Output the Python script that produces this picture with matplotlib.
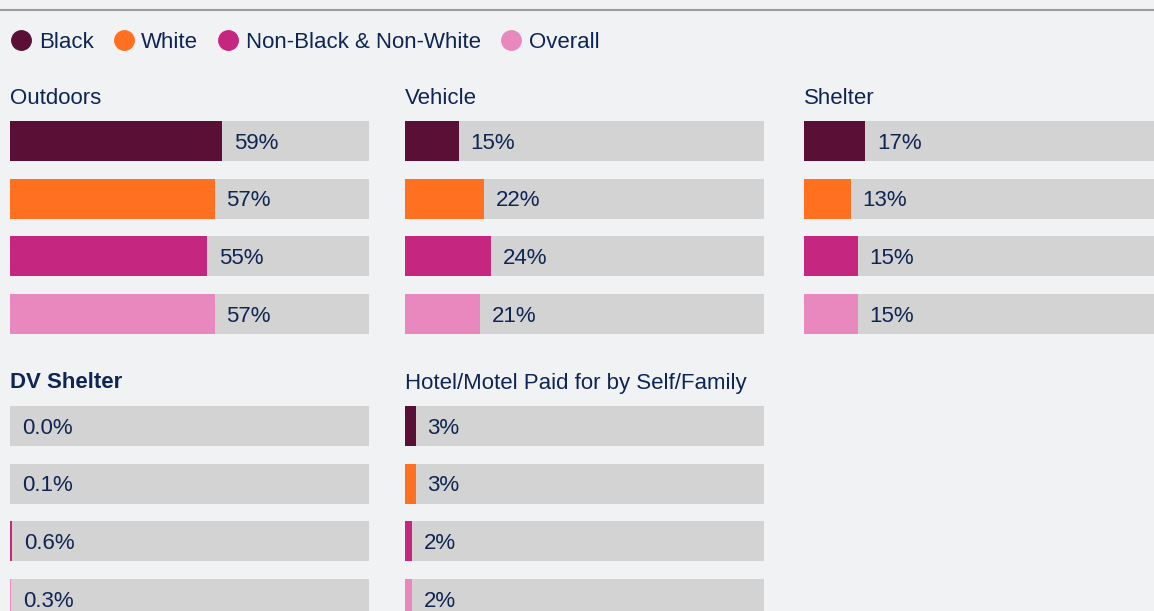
import matplotlib.pyplot as plt
from matplotlib.lines import Line2D

# data
groups = ['Black', 'White', 'Non-Black & Non-White', 'Overall']
colors = ['#5a0f36', '#ff7020', '#c5267f', '#e987bf']

panel_titles = ['Outdoors', 'Vehicle', 'Shelter', 'DV Shelter', 'Hotel/Motel Paid for by Self/Family']
outdoors = [59, 57, 55, 57]
vehicle = [15, 22, 24, 21]
shelter = [17, 13, 15, 15]
dv_shelter = [0.0, 0.1, 0.6, 0.3]
hotel = [3, 3, 2, 2]
panel_values = [outdoors, vehicle, shelter, dv_shelter, hotel]
panel_labels = [
    ['59%', '57%', '55%', '57%'],
    ['15%', '22%', '24%', '21%'],
    ['17%', '13%', '15%', '15%'],
    ['0.0%', '0.1%', '0.6%', '0.3%'],
    ['3%', '3%', '2%', '2%'],
]

W, H = 1154, 611
BG = '#f1f2f4'
TRACK = '#d2d3d2'
TXT = '#0f2553'
FS = 16

plt.rcParams['font.family'] = ['Liberation Sans', 'DejaVu Sans']

fig = plt.figure(figsize=(W / 100, H / 100), dpi=100, facecolor=BG)


def px(x, y):
    # pixel (top-left origin) -> figure fraction
    return x / W, 1 - y / H


# top rule
fig.add_artist(Line2D([0, 1], [1 - 10 / H] * 2, color='#9a9ea3', lw=1.5,
                      transform=fig.transFigure))

# legend
handles = [Line2D([], [], marker='o', ls='', color=c, markersize=14) for c in colors]
fig.legend(handles, groups, ncol=4, loc='center left', bbox_to_anchor=px(1, 42),
           frameon=False, fontsize=FS, labelcolor=TXT, handletextpad=0.3,
           columnspacing=0.85, handlelength=1.0, borderaxespad=0)

col_left = [10, 405, 804]
row_top = [121, 406]
panel_w = 359
pitch = 57.7
bar_h_px = 40
h = bar_h_px / pitch
ax_h = 3 * pitch + bar_h_px

for k, (title, vals, labs) in enumerate(zip(panel_titles, panel_values, panel_labels)):
    r, c = divmod(k, 3)
    x0, y0 = col_left[c], row_top[r]
    l, t = px(x0, y0)
    ax = fig.add_axes([l, t - ax_h / H, panel_w / W, ax_h / H])
    ax.set_facecolor(BG)
    ypos = list(range(len(vals)))
    ax.barh(ypos, [100] * len(vals), height=h, color=TRACK, left=0)
    ax.barh(ypos, vals, height=h, color=colors)
    for yi, v, s in zip(ypos, vals, labs):
        ax.annotate(s, (v, yi), xytext=(8.5, -1.5), textcoords='offset points',
                    va='center', ha='left', fontsize=FS, color=TXT)
    ax.set_xlim(0, 100)
    ax.set_ylim(3 + h / 2, -h / 2)
    ax.axis('off')
    fw = 'bold' if title == 'DV Shelter' else 'normal'
    fig.text(*px(x0, y0 - 23), title, fontsize=FS, color=TXT, va='center',
             ha='left', fontweight=fw)

fig.savefig('out.png', dpi=100, facecolor=BG)
